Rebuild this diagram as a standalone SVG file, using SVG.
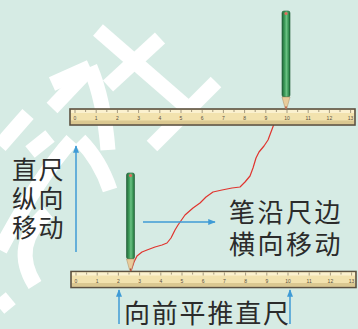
<svg xmlns="http://www.w3.org/2000/svg" width="358" height="329" viewBox="0 0 358 329">
  <style>
    .wm { fill: none; stroke: #ffffff; stroke-width: 15; stroke-linecap: butt; }
    .ruler-body { fill: #f2e2ae; stroke: #5c5140; stroke-width: 1.6; }
    .ruler-shade { fill: #c9b27a; opacity: 0.55; }
    .ruler-light { fill: #fbf1cf; }
    .tick { stroke: #6a5c44; stroke-width: 0.6; }
    .num { font-family: "Liberation Sans", Arial, sans-serif; font-size: 5px; fill: #5a4e3c; text-anchor: middle; }
    .label { font-family: "Liberation Sans", "Noto Sans CJK SC", sans-serif; fill: #2b2b2b; }
    .arrow { fill: none; stroke: #3f9bd6; stroke-width: 1.5; }
    .trace { fill: none; stroke: #e0342e; stroke-width: 1.2; stroke-linejoin: round; }
  </style>
  <defs>
    <marker id="head" viewBox="0 0 10 10" refX="9" refY="5" markerWidth="5" markerHeight="5" orient="auto" markerUnits="strokeWidth">
      <path d="M0,1 L10,5 L0,9 Z" fill="#3f9bd6"/>
    </marker>
    <linearGradient id="pencilBody" x1="0" y1="0" x2="1" y2="0">
      <stop offset="0" stop-color="#22663a"/>
      <stop offset="0.35" stop-color="#3f9f5c"/>
      <stop offset="0.55" stop-color="#6cc184"/>
      <stop offset="0.8" stop-color="#3a9656"/>
      <stop offset="1" stop-color="#22663a"/>
    </linearGradient>
    <!-- one ruler, 285 wide, 16 high, with unit ticks -->
    <g id="ruler">
      <rect class="ruler-body" x="0" y="0" width="285" height="16"/>
      <rect class="ruler-light" x="1" y="1" width="283" height="3"/>
      <rect class="ruler-shade" x="1" y="11.5" width="283" height="3.5"/>
      <g class="tick">
        <path d="M5,1 v3 M15.6,1 v2 M26.2,1 v3 M36.8,1 v2 M47.4,1 v3 M58,1 v2 M68.6,1 v3 M79.2,1 v2 M89.8,1 v3 M100.4,1 v2 M111,1 v3 M121.6,1 v2 M132.2,1 v3 M142.8,1 v2 M153.4,1 v3 M164,1 v2 M174.6,1 v3 M185.2,1 v2 M195.8,1 v3 M206.4,1 v2 M217,1 v3 M227.6,1 v2 M238.2,1 v3 M248.8,1 v2 M259.4,1 v3 M270,1 v2 M280.6,1 v3"/>
      </g>
      <g class="num">
        <text x="5" y="11">0</text>
        <text x="26.2" y="11">1</text>
        <text x="47.4" y="11">2</text>
        <text x="68.6" y="11">3</text>
        <text x="89.8" y="11">4</text>
        <text x="111" y="11">5</text>
        <text x="132.2" y="11">6</text>
        <text x="153.4" y="11">7</text>
        <text x="174.6" y="11">8</text>
        <text x="195.8" y="11">9</text>
        <text x="217" y="11">10</text>
        <text x="238.2" y="11">11</text>
        <text x="259.4" y="11">12</text>
        <text x="280.6" y="11">13</text>
      </g>
    </g>
    <!-- pencil standing on its point at (0,0), 8 wide -->
    <g id="pencil">
      <rect x="-4" y="-99" width="8" height="86" rx="2" fill="url(#pencilBody)" stroke="#1f5a33" stroke-width="0.6"/>
      <circle cx="0" cy="-96.5" r="1.6" fill="#e26b5c"/>
      <path d="M-4,-13 L4,-13 L0.8,-1.5 L-0.8,-1.5 Z" fill="#e9cc9c" stroke="#a88a60" stroke-width="0.5"/>
      <path d="M-0.9,-3.5 L0.9,-3.5 L0,0 Z" fill="#b0453a"/>
    </g>
  </defs>

  <rect width="358" height="329" fill="#d6ebe4"/>

  <!-- pale background strokes -->
  <g id="backdrop">
    <path class="wm" d="M98,30 L190,110"/>
    <path class="wm" d="M160,38 L108,86"/>
    <path class="wm" d="M216,82 L152,146"/>
    <path class="wm" d="M52,84 L90,67"/>
    <path class="wm" d="M90,67 Q104,100 108,150"/>
    <path class="wm" d="M90,68 L52,108"/>
    <path class="wm" d="M28,114 L0,146"/>
    <path class="wm" d="M50,136 L30,152"/>
    <path class="wm" d="M72,140 Q40,175 0,250"/>
    <path class="wm" d="M48,212 Q10,245 35,285"/>
    <path class="wm" d="M80,140 Q100,160 110,190"/>
    <path class="wm" d="M0,297 L10,309"/>
  </g>

  <!-- connectors: pencil trace and motion arrows -->
  <g id="connectors">
    <path class="trace" d="M131,271 L134,262 L137,256 L142,252 L147,250 L155,247 L162,245 L167,243 L171,238 L175,230 L178,225 L185,215 L193,208 L200,203 L206,197 L213,192 L222,190 L232,188 L240,187 L245,182 L250,176 L253,168 L256,158 L259,152 L264,146 L268,140 L271,132 L274,124 L280,116 L286,110"/>
    <path class="arrow" d="M76,252 L76,146" marker-end="url(#head)"/>
    <path class="arrow" d="M143,222 L215,222" marker-end="url(#head)"/>
    <path class="arrow" d="M119,324 L119,290" marker-end="url(#head)"/>
    <path class="arrow" d="M290,324 L290,290" marker-end="url(#head)"/>
  </g>

  <g id="ruler-top">
    <use href="#ruler" x="70" y="109"/>
  </g>
  <g id="ruler-bottom">
    <use href="#ruler" x="71" y="271.5"/>
  </g>

  <g id="pencil-top">
    <use href="#pencil" x="286" y="110"/>
  </g>
  <g id="pencil-bottom">
    <use href="#pencil" x="130.5" y="272"/>
  </g>

  <g id="label-vertical">
    <text class="label" font-size="25" letter-spacing="1.5"><tspan x="12" y="179">直尺</tspan><tspan x="12" y="208">纵向</tspan><tspan x="12" y="237">移动</tspan></text>
  </g>
  <g id="label-horizontal">
    <text class="label" font-size="26" letter-spacing="2.5"><tspan x="229" y="222">笔沿尺边</tspan><tspan x="229" y="254">横向移动</tspan></text>
  </g>
  <g id="label-push">
    <text class="label" font-size="26" letter-spacing="1.8" x="124" y="323">向前平推直尺</text>
  </g>
</svg>
